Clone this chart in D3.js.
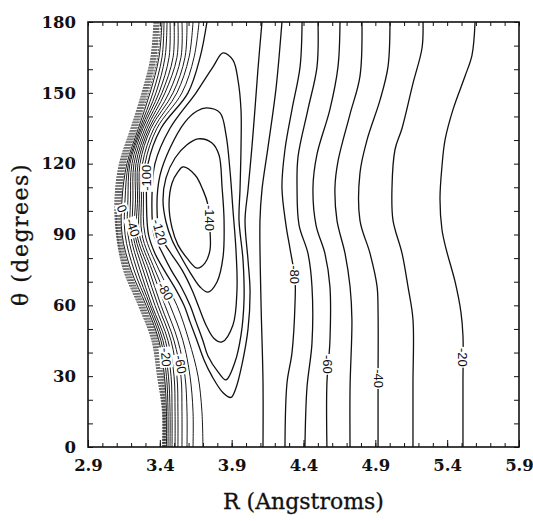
<!DOCTYPE html>
<html>
<head>
<meta charset="utf-8">
<script src="https://cdn.jsdelivr.net/npm/d3@7"></script>
<style>
  body { margin: 0; background: #fff; }
  svg { display: block; }
</style>
</head>
<body>
<svg id="chart" width="533" height="521"></svg>
<script>
// ---- axes ----
const rDomain = [2.9, 5.9];
const thetaDomain = [0, 180];
const rTicks = [2.9, 3.4, 3.9, 4.4, 4.9, 5.4, 5.9];
const thetaTicks = [0, 30, 60, 90, 120, 150, 180];

// ---- closed contours of the well, points are [R (Å), θ (deg)] ----
const well140 = [[3.561,118.6],[3.645,115.2],[3.700,108.9],[3.735,102.5],[3.749,91.9],[3.749,83.4],[3.714,77.9],[3.659,75.8],[3.589,80],[3.526,85.6],[3.485,92.8],[3.464,102.5],[3.485,111.8],[3.526,116.5]];
const well130 = [[3.666,130.5],[3.763,128.8],[3.812,123.7],[3.833,110.1],[3.847,96.1],[3.840,80.5],[3.798,69.9],[3.735,65.6],[3.680,67.8],[3.610,74],[3.540,81.3],[3.485,87.7],[3.443,95.3],[3.422,104.6],[3.443,114],[3.506,122.4],[3.589,128]];
const well120 = [[3.728,143.6],[3.819,141.5],[3.861,132.1],[3.888,117.3],[3.909,100.4],[3.930,83.4],[3.937,66.5],[3.909,51.7],[3.833,44.5],[3.777,46],[3.721,51.7],[3.673,59],[3.624,66.5],[3.554,75],[3.471,82.6],[3.401,90],[3.380,102.5],[3.401,115],[3.471,126.6],[3.575,137.6],[3.659,142.3]];
const well110 = [[3.840,166.9],[3.909,163.9],[3.944,155.4],[3.965,142.7],[3.965,126.6],[3.958,108.9],[3.951,96.1],[3.979,79.2],[3.986,62.3],[3.965,47.4],[3.923,36],[3.860,28.4],[3.805,31.8],[3.735,38.5],[3.700,45],[3.652,53],[3.610,60],[3.547,68],[3.478,75],[3.415,82.5],[3.359,90],[3.345,105],[3.366,120],[3.471,135],[3.652,150],[3.770,161]];

// ---- open contours (edge to edge) ----
const open100 = [[4.111,180],[4.083,160],[4.062,143],[4.041,127],[4.014,109],[3.993,96],[4.014,79],[4.028,66],[4.014,50],[3.972,35],[3.930,25],[3.895,21],[3.840,23],[3.763,30],[3.707,37],[3.659,45],[3.610,53],[3.568,60],[3.499,68],[3.429,75],[3.366,82],[3.321,90],[3.307,105],[3.318,120],[3.408,135],[3.596,150],[3.680,165],[3.728,180]];
const open90  = [[4.250,180],[4.209,152],[4.153,127],[4.111,109],[4.097,96],[4.104,62],[4.118,28],[4.118,0]];
const open80  = [[4.390,180],[4.376,161],[4.320,143],[4.271,126],[4.250,110],[4.278,94],[4.306,84],[4.341,71],[4.341,61],[4.320,40],[4.285,27],[4.271,0]];
const open70  = [[4.501,180],[4.494,161],[4.431,143],[4.362,123],[4.355,110],[4.369,94],[4.431,82],[4.459,68],[4.459,44],[4.424,25],[4.410,0]];
const open60  = [[4.654,180],[4.640,161],[4.584,143],[4.494,124],[4.466,110],[4.487,94],[4.549,82],[4.584,68],[4.584,45],[4.563,27],[4.563,0]];
const open50  = [[4.807,180],[4.793,157],[4.724,141],[4.640,121],[4.619,110],[4.633,96],[4.689,82],[4.724,68],[4.737,54],[4.724,25],[4.724,0]];
const open40  = [[5.002,180],[4.988,161],[4.933,147],[4.842,130],[4.793,116],[4.793,96],[4.863,82],[4.912,68],[4.919,57],[4.919,28],[4.919,0]];
const open30  = [[5.232,180],[5.225,169],[5.162,154],[5.086,135],[5.037,126],[5.016,110],[5.023,96],[5.086,82],[5.127,68],[5.162,54],[5.162,27],[5.162,0]];
const open20  = [[5.594,180],[5.573,166],[5.524,157],[5.441,143],[5.385,130],[5.364,119],[5.350,105],[5.364,92],[5.392,84],[5.455,70],[5.496,57],[5.510,47],[5.510,27],[5.510,0]];

// ---- repulsive wall: R where each level crosses each θ row ----
const wallLevels = [70, 60, 50, 40, 30, 20, 10, 0, -10, -20, -30, -40, -50, -60, -70, -80, -90];
const wallTheta = [180, 165, 150, 135, 120, 105, 90, 75, 60, 45, 30, 15, 0];
const wallR = [
  [3.359,3.366,3.373,3.380,3.387,3.394,3.405,3.415,3.429,3.450,3.471,3.499,3.526,3.554,3.589,3.631,3.673],
  [3.338,3.345,3.352,3.359,3.366,3.373,3.384,3.394,3.415,3.436,3.464,3.492,3.519,3.547,3.575,3.603,3.638],
  [3.276,3.283,3.290,3.297,3.304,3.311,3.321,3.332,3.352,3.373,3.394,3.415,3.436,3.464,3.492,3.519,3.554],
  [3.199,3.206,3.213,3.220,3.227,3.234,3.241,3.251,3.262,3.272,3.283,3.297,3.311,3.325,3.338,3.359,3.380],
  [3.119,3.126,3.133,3.140,3.147,3.154,3.161,3.171,3.182,3.192,3.206,3.220,3.234,3.248,3.262,3.279,3.297],
  [3.088,3.095,3.102,3.109,3.116,3.123,3.130,3.137,3.158,3.178,3.196,3.213,3.231,3.245,3.258,3.272,3.286],
  [3.098,3.102,3.105,3.109,3.116,3.123,3.130,3.137,3.158,3.178,3.196,3.213,3.227,3.241,3.258,3.276,3.297],
  [3.147,3.154,3.161,3.168,3.175,3.182,3.189,3.199,3.220,3.241,3.262,3.283,3.304,3.325,3.345,3.366,3.394],
  [3.251,3.258,3.265,3.272,3.279,3.286,3.293,3.304,3.318,3.332,3.345,3.366,3.387,3.408,3.436,3.471,3.519],
  [3.345,3.352,3.359,3.366,3.373,3.380,3.387,3.394,3.408,3.422,3.439,3.457,3.478,3.499,3.526,3.561,3.603],
  [3.384,3.391,3.398,3.405,3.412,3.418,3.425,3.432,3.446,3.460,3.478,3.499,3.519,3.547,3.575,3.610,3.666],
  [3.418,3.422,3.425,3.429,3.432,3.436,3.439,3.446,3.457,3.471,3.485,3.506,3.526,3.554,3.589,3.631,3.693],
  [3.418,3.422,3.425,3.429,3.432,3.436,3.439,3.446,3.457,3.471,3.485,3.506,3.526,3.554,3.589,3.631,3.700]
];

// ---- contour labels: level and where it sits ----
const labelLevels = [-20, -40, -60, -80, -140, -120, -100, 0, -40, -80, -20, -60];
const labelR      = [5.510, 4.919, 4.570, 4.340, 3.746, 3.398, 3.310, 3.137, 3.212, 3.438, 3.442, 3.545];
const labelTheta  = [38, 29, 35, 73, 97, 91, 114, 101, 93, 66, 38, 35];

// ================= drawing =================
const frameL = 88, frameR = 519, frameT = 22, frameB = 447;
const svg = d3.select("#chart");

const x = d3.scaleLinear().domain(rDomain).range([frameL, frameR]);
const y = d3.scaleLinear().domain(thetaDomain).range([frameB, frameT]);

svg.append("defs").append("clipPath").attr("id", "plotClip")
  .append("rect").attr("x", frameL).attr("y", frameT)
  .attr("width", frameR - frameL).attr("height", frameB - frameT);

const plot = svg.append("g").attr("clip-path", "url(#plotClip)");

const openLine = d3.line().x(d => x(d[0])).y(d => y(d[1]))
  .curve(d3.curveCatmullRom.alpha(0.5));
const closedLine = d3.line().x(d => x(d[0])).y(d => y(d[1]))
  .curve(d3.curveCatmullRomClosed.alpha(0.5));

// wall contours, one polyline per level
const wallLines = wallLevels.map((lev, i) => ({
  level: lev,
  pts: wallTheta.map((t, j) => [wallR[j][i], t])
}));

plot.append("g").selectAll("path").data(wallLines).join("path")
  .attr("d", d => openLine(d.pts))
  .attr("fill", "none")
  .attr("stroke", d => d.level > 0 ? "#333" : "#1a1a1a")
  .attr("stroke-width", d => d.level > 0 ? 0.8 : 1.0)
  .attr("stroke-dasharray", d => d.level > 0 ? "2 1" : null);

const openSet = [
  { level: -100, pts: open100 }, { level: -90, pts: open90 }, { level: -80, pts: open80 },
  { level: -70, pts: open70 }, { level: -60, pts: open60 }, { level: -50, pts: open50 },
  { level: -40, pts: open40 }, { level: -30, pts: open30 }, { level: -20, pts: open20 }
];
plot.append("g").selectAll("path").data(openSet).join("path")
  .attr("d", d => openLine(d.pts))
  .attr("fill", "none").attr("stroke", "#111").attr("stroke-width", 1.3);

const wellSet = [
  { level: -140, pts: well140 }, { level: -130, pts: well130 },
  { level: -120, pts: well120 }, { level: -110, pts: well110 }
];
plot.append("g").selectAll("path").data(wellSet).join("path")
  .attr("d", d => closedLine(d.pts))
  .attr("fill", "none").attr("stroke", "#111").attr("stroke-width", 1.3);

// contour labels with a white knock-out behind the text
const labelAngles = [90, 90, 90, 90, 90, 75, -90, 70, 70, 60, 85, 80];
const lab = svg.append("g").selectAll("g")
  .data(labelLevels.map((lev, i) => ({ lev, r: labelR[i], t: labelTheta[i], a: labelAngles[i] })))
  .join("g")
  .attr("transform", d => `translate(${x(d.r)},${y(d.t)}) rotate(${d.a})`);
lab.append("rect").attr("fill", "#fff");
lab.append("text")
  .attr("text-anchor", "middle").attr("dy", "0.35em")
  .attr("font-family", "'Liberation Sans', Arial, sans-serif")
  .attr("font-size", 13).attr("fill", "#111")
  .text(d => String(d.lev));
lab.each(function() {
  const g = d3.select(this);
  const bb = g.select("text").node().getBBox();
  g.select("rect").attr("x", bb.x - 1).attr("y", bb.y + 1)
    .attr("width", bb.width + 2).attr("height", bb.height - 2);
});

// ---- axes: inward ticks on all four sides ----
const fontSerif = "'DejaVu Serif', serif";
const rMinor = d3.range(29, 60).map(v => v / 10);
const tMinor = d3.range(0, 181, 10);

function styleAxis(g) {
  g.select(".domain").remove();
  g.selectAll(".tick line").attr("stroke", "#111").attr("stroke-width", 1);
  g.selectAll("text").attr("font-family", fontSerif).attr("font-size", 16.5)
    .attr("font-weight", "bold").attr("fill", "#111");
}

svg.append("g").attr("transform", `translate(0,${frameB})`)
  .call(d3.axisBottom(x).tickValues(rMinor).tickSizeInner(-4).tickSizeOuter(0).tickFormat(""))
  .call(styleAxis);
svg.append("g").attr("transform", `translate(0,${frameB})`)
  .call(d3.axisBottom(x).tickValues(rTicks).tickSizeInner(-7).tickSizeOuter(0)
    .tickPadding(12).tickFormat(d3.format(".1f")))
  .call(styleAxis);
svg.append("g").attr("transform", `translate(0,${frameT})`)
  .call(d3.axisTop(x).tickValues(rMinor).tickSizeInner(-4).tickSizeOuter(0).tickFormat(""))
  .call(styleAxis);

svg.append("g").attr("transform", `translate(${frameL},0)`)
  .call(d3.axisLeft(y).tickValues(tMinor).tickSizeInner(-5).tickSizeOuter(0).tickFormat(""))
  .call(styleAxis);
svg.append("g").attr("transform", `translate(${frameL},0)`)
  .call(d3.axisLeft(y).tickValues(thetaTicks).tickSizeInner(0).tickSizeOuter(0)
    .tickPadding(12).tickFormat(d3.format("d")))
  .call(styleAxis);
svg.append("g").attr("transform", `translate(${frameR},0)`)
  .call(d3.axisRight(y).tickValues(tMinor).tickSizeInner(-5).tickSizeOuter(0).tickFormat(""))
  .call(styleAxis);

// frame
svg.append("rect").attr("x", frameL).attr("y", frameT)
  .attr("width", frameR - frameL).attr("height", frameB - frameT)
  .attr("fill", "none").attr("stroke", "#111").attr("stroke-width", 1.6);

// axis titles
svg.append("text").attr("x", (frameL + frameR) / 2).attr("y", 509)
  .attr("text-anchor", "middle").attr("font-family", fontSerif).attr("font-size", 22)
  .attr("stroke", "#111").attr("stroke-width", 0.3)
  .attr("fill", "#111").text("R (Angstroms)");
svg.append("text")
  .attr("transform", `translate(28,${(frameT + frameB) / 2}) rotate(-90)`)
  .attr("text-anchor", "middle").attr("font-family", fontSerif).attr("font-size", 22)
  .attr("letter-spacing", 1.5).attr("stroke", "#111").attr("stroke-width", 0.3)
  .attr("fill", "#111").text("θ (degrees)");
</script>
</body>
</html>
